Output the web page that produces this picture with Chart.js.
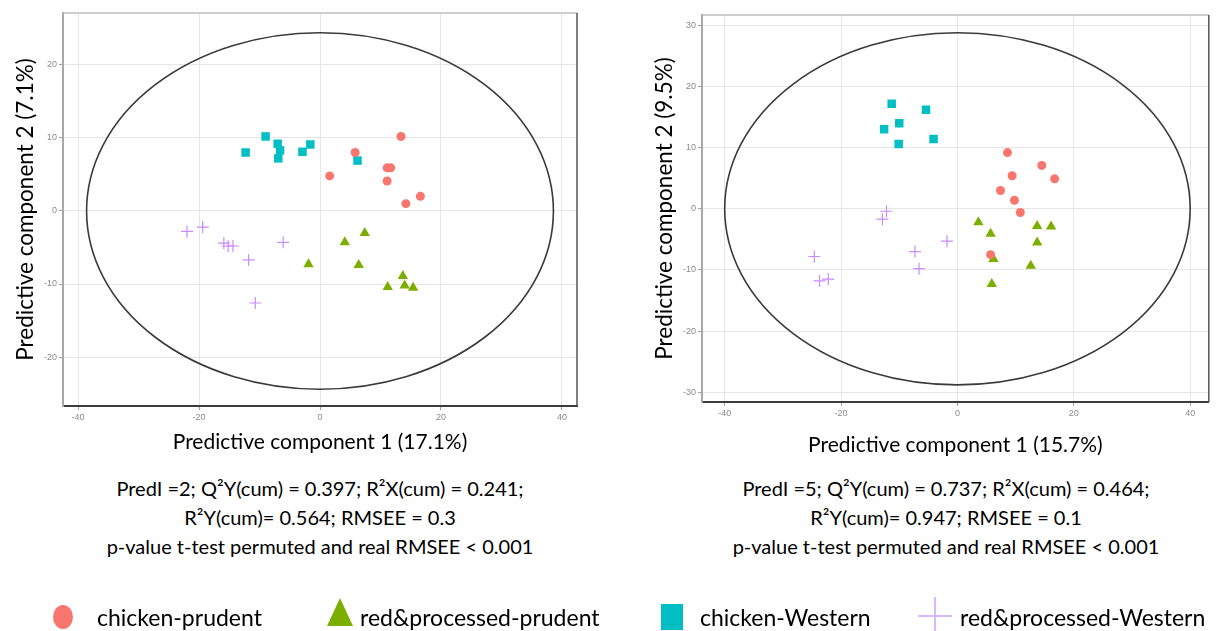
<!DOCTYPE html>
<html>
<head>
<meta charset="utf-8">
<script src="https://cdn.jsdelivr.net/npm/chart.js@4.4.1/dist/chart.umd.min.js"></script>
<style>
body { margin: 0; background: #fff; width: 1216px; height: 631px; position: relative; overflow: hidden; font-family: Lato, "Open Sans", sans-serif; color: #000; }
canvas { position: absolute; top: 0; }
#chartLeft { left: 0; }
#chartRight { left: 640px; }
.stats { position: absolute; top: 474px; width: 520px; text-align: center; font-size: 20px; line-height: 29px; }
#statsLeft { left: 60px; }
#statsRight { left: 686px; }
#legendShapes { position: absolute; left: 0; top: 0; }
.legend-label { position: absolute; top: 603px; font-size: 23px; line-height: 28px; white-space: nowrap; }
</style>
</head>
<body>
<canvas id="chartLeft" width="600" height="460"></canvas>
<canvas id="chartRight" width="576" height="460"></canvas>

<div class="stats" id="statsLeft">
  <div>PredI =2; Q²Y(cum) = 0.397; R²X(cum) = 0.241;</div>
  <div>R²Y(cum)= 0.564; RMSEE = 0.3</div>
  <div>p-value t-test permuted and real RMSEE &lt; 0.001</div>
</div>
<div class="stats" id="statsRight">
  <div>PredI =5; Q²Y(cum) = 0.737; R²X(cum) = 0.464;</div>
  <div>R²Y(cum)= 0.947; RMSEE = 0.1</div>
  <div>p-value t-test permuted and real RMSEE &lt; 0.001</div>
</div>

<svg id="legendShapes" width="1216" height="631">
  <ellipse cx="63" cy="617" rx="10" ry="12" fill="#F8766D"></ellipse>
  <polygon points="340,598 327,626 353,626" fill="#7CAE00"></polygon>
  <rect x="661" y="604" width="22" height="26" fill="#00BFC4"></rect>
  <line x1="935" y1="597" x2="935" y2="637" stroke="#D9B8FF" stroke-width="2"></line>
  <line x1="918" y1="616" x2="952" y2="616" stroke="#D9B8FF" stroke-width="2"></line>
</svg>
<div class="legend-label" style="left:97px">chicken-prudent</div>
<div class="legend-label" style="left:360px">red&amp;processed-prudent</div>
<div class="legend-label" style="left:700px">chicken-Western</div>
<div class="legend-label" style="left:960px">red&amp;processed-Western</div>

<script>
// Axis ticks
const xTicks = [-40, -20, 0, 20, 40];
const yTicksLeft = [-20, -10, 0, 10, 20];
const yTicksRight = [-30, -20, -10, 0, 10, 20, 30];

// Group order: chicken-prudent, red&processed-prudent, chicken-Western, red&processed-Western
const groupLabels = ['chicken-prudent', 'red&processed-prudent', 'chicken-Western', 'red&processed-Western'];

// Left panel scores [predictive comp 1, predictive comp 2]
const leftChickenPrudent = [[13.4, 10.2], [5.8, 8.0], [1.6, 4.8], [11.1, 5.9], [11.7, 5.9], [11.1, 4.1], [16.6, 2.0], [14.2, 1.0]];
const leftRedPrudent = [[7.4, -3.0], [4.1, -4.3], [-1.9, -7.3], [6.4, -7.4], [13.7, -8.9], [11.2, -10.4], [14.0, -10.2], [15.4, -10.5]];
const leftChickenWestern = [[-12.3, 8.0], [-9.0, 10.2], [-7.0, 9.2], [-6.6, 8.3], [-6.9, 7.2], [-2.9, 8.1], [-1.6, 9.1], [6.2, 6.9]];
const leftRedWestern = [[-22.0, -2.8], [-19.4, -2.2], [-15.9, -4.4], [-15.2, -4.8], [-14.4, -4.8], [-6.1, -4.3], [-11.8, -6.7], [-10.7, -12.6]];

// Right panel scores
const rightChickenPrudent = [[8.6, 9.2], [14.5, 7.1], [16.7, 4.9], [9.4, 5.4], [7.4, 3.0], [9.8, 1.4], [10.8, -0.6], [5.7, -7.5]];
const rightRedPrudent = [[3.6, -2.2], [5.7, -4.1], [13.7, -2.8], [16.1, -2.9], [13.7, -5.5], [6.2, -8.2], [12.6, -9.3], [5.9, -12.3]];
const rightChickenWestern = [[-11.3, 17.2], [-5.4, 16.2], [-10.0, 14.0], [-12.6, 13.0], [-4.1, 11.4], [-10.1, 10.6]];
const rightRedWestern = [[-12.2, -0.4], [-12.9, -1.7], [-1.8, -5.3], [-7.3, -7.0], [-6.6, -9.8], [-24.6, -7.8], [-23.7, -11.8], [-22.2, -11.5]];

// Hotelling ellipse semi-axes [x, y]
const leftEllipse = [38.6, 24.4];
const rightEllipse = [40.0, 28.8];

const groupStyles = [
    { pointStyle: 'circle', color: '#F8766D', radius: 4.5, borderWidth: 0 },
    { pointStyle: 'triangle', color: '#7CAE00', radius: 6, borderWidth: 0 },
    { pointStyle: 'rect', color: '#00BFC4', radius: 6, borderWidth: 0 },
    { pointStyle: 'cross', color: '#C98BFF', radius: 6, borderWidth: 1.2 }
];

function makeDatasets(groups) {
    return groups.map((pts, i) => {
        const s = groupStyles[i];
        return {
            label: groupLabels[i],
            data: pts.map(p => ({ x: p[0], y: p[1] })),
            pointStyle: s.pointStyle,
            pointRadius: s.radius,
            backgroundColor: s.color,
            borderColor: s.color,
            borderWidth: s.borderWidth
        };
    });
}

// Ellipse drawn through the chart's own scales
const ellipsePlugin = {
    id: 'ellipse',
    beforeDatasetsDraw(chart, args, opts) {
        const xs = chart.scales.x, ys = chart.scales.y, ctx = chart.ctx;
        const cx = xs.getPixelForValue(0), cy = ys.getPixelForValue(0);
        const rx = Math.abs(xs.getPixelForValue(opts.axes[0]) - cx);
        const ry = Math.abs(ys.getPixelForValue(opts.axes[1]) - cy);
        ctx.save();
        ctx.beginPath();
        ctx.ellipse(cx, cy, rx, ry, 0, 0, Math.PI * 2);
        ctx.strokeStyle = '#3a3a3a';
        ctx.lineWidth = 1.6;
        ctx.stroke();
        ctx.restore();
    }
};

// Top and right panel border
const framePlugin = {
    id: 'frame',
    afterDraw(chart) {
        const a = chart.chartArea, ctx = chart.ctx;
        ctx.save();
        ctx.lineWidth = 1.5;
        ctx.strokeStyle = '#bdbdbd';
        ctx.beginPath();
        ctx.moveTo(a.left, a.top);
        ctx.lineTo(a.right, a.top);
        ctx.stroke();
        ctx.strokeStyle = '#555';
        ctx.beginPath();
        ctx.moveTo(a.right, a.top);
        ctx.lineTo(a.right, a.bottom);
        ctx.stroke();
        ctx.restore();
    }
};

function axisOpts(cfg) {
    return {
        type: 'linear',
        position: cfg.position,
        min: cfg.min,
        max: cfg.max,
        afterBuildTicks: s => { s.ticks = cfg.ticks.map(v => ({ value: v })); },
        afterFit: s => {
            if (cfg.position === 'bottom') s.height = cfg.size; else s.width = cfg.size;
        },
        grid: { color: '#e6e6e6', lineWidth: 1, tickLength: 4, tickColor: '#a0a0a0' },
        border: { display: true, color: cfg.borderColor, width: cfg.borderWidth },
        ticks: {
            color: '#8a8a8a',
            font: { family: 'Liberation Sans', size: 9 },
            padding: 2,
            maxRotation: 0,
            autoSkip: false
        },
        title: {
            display: true,
            text: cfg.title,
            color: '#000',
            font: { family: 'Lato', size: cfg.titleSize },
            padding: cfg.position === 'bottom' ? { top: 0, bottom: cfg.titlePad } : { top: cfg.titlePad, bottom: 0 }
        }
    };
}

function makeChart(id, groups, ellipseAxes, layoutPad, xCfg, yCfg) {
    return new Chart(document.getElementById(id), {
        type: 'scatter',
        data: { datasets: makeDatasets(groups) },
        options: {
            responsive: false,
            animation: false,
            events: [],
            layout: { padding: layoutPad },
            plugins: {
                legend: { display: false },
                tooltip: { enabled: false },
                ellipse: { axes: ellipseAxes }
            },
            scales: {
                x: axisOpts(xCfg),
                y: axisOpts(yCfg)
            }
        },
        plugins: [ellipsePlugin, framePlugin]
    });
}

makeChart('chartLeft',
    [leftChickenPrudent, leftRedPrudent, leftChickenWestern, leftRedWestern],
    leftEllipse,
    { top: 13, right: 23, left: 0, bottom: 0 },
    { position: 'bottom', min: -42.5, max: 42.5, ticks: xTicks, size: 54, title: 'Predictive component 1 (17.1%)', titleSize: 21, titlePad: 5, borderColor: '#3c3c3c', borderWidth: 2 },
    { position: 'left', min: -26.7, max: 27.1, ticks: yTicksLeft, size: 63, title: 'Predictive component 2 (7.1%)', titleSize: 22.5, titlePad: 12, borderColor: '#a8a8a8', borderWidth: 2 }
);

makeChart('chartRight',
    [rightChickenPrudent, rightRedPrudent, rightChickenWestern, rightRedWestern],
    rightEllipse,
    { top: 15, right: 2, left: 0, bottom: 0 },
    { position: 'bottom', min: -43.9, max: 43.2, ticks: xTicks, size: 58, title: 'Predictive component 1 (15.7%)', titleSize: 21, titlePad: 2, borderColor: '#3c3c3c', borderWidth: 2 },
    { position: 'left', min: -31.6, max: 31.7, ticks: yTicksRight, size: 62, title: 'Predictive component 2 (9.5%)', titleSize: 22.5, titlePad: 11, borderColor: '#a8a8a8', borderWidth: 2 }
);
</script>
</body>
</html>
